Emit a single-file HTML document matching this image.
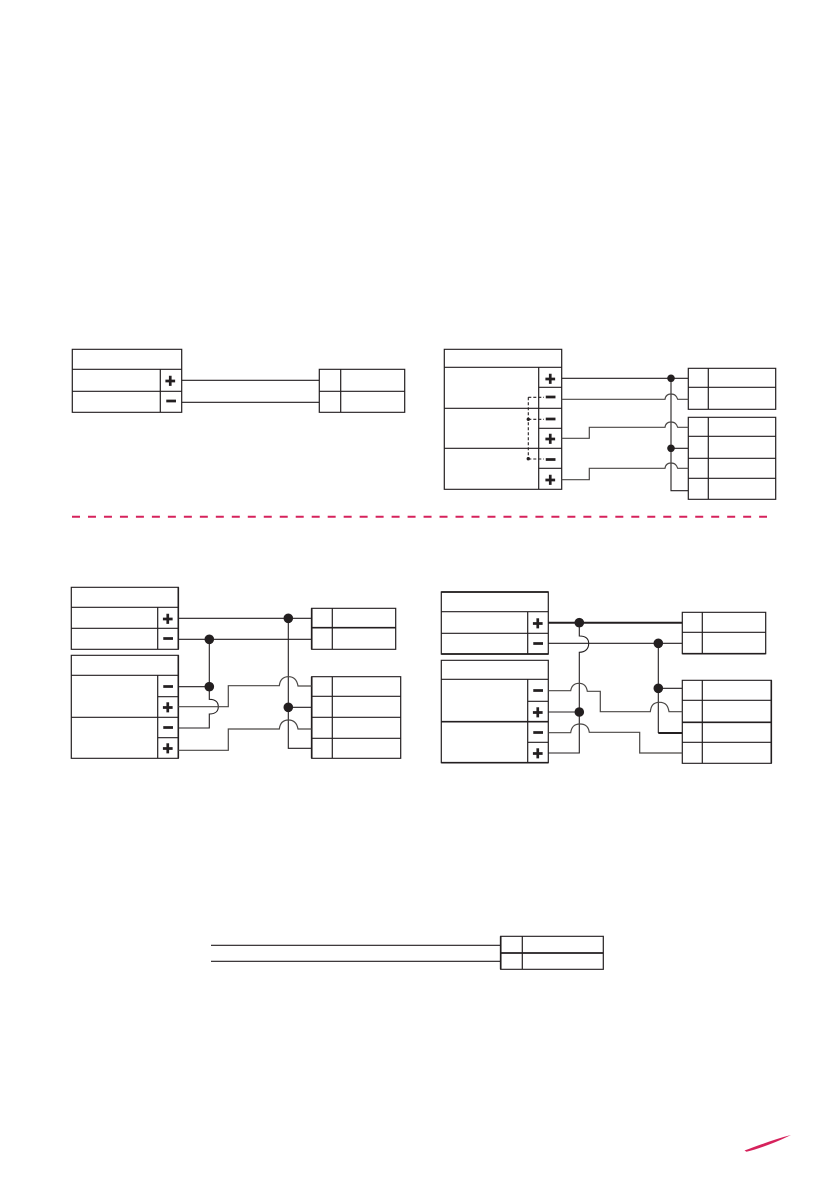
<!DOCTYPE html>
<html lang="en">
<head>
<meta charset="utf-8">
<title>Wiring diagrams</title>
<style>
html,body{margin:0;padding:0;background:#fff;width:839px;height:1191px;overflow:hidden}
svg{display:block}
.b{fill:none;stroke:#231f20;stroke-width:1.2}
.w{fill:none;stroke:#231f20;stroke-width:1.1}
.g{fill:none;stroke:#4a4745;stroke-width:1.2}
.t{fill:none;stroke:#231f20;stroke-width:2}
.d{fill:#231f20;stroke:none}
text{font-family:"Liberation Sans",sans-serif;font-weight:bold;fill:#231f20;stroke:#231f20;stroke-width:.7;text-anchor:middle;font-size:18px}
</style>
</head>
<body>
<svg width="839" height="1191" viewBox="0 0 839 1191" xmlns="http://www.w3.org/2000/svg">

<!-- Diagram 1 -->
<path class="b" d="M72.3 349.3H181.7V412.3H72.3ZM72.3 369.3H181.7M72.3 391.3H181.7M160.3 369.3V412.3"/>
<path class="w" d="M181.7 380.3H319.3M181.7 402.3H319.3"/>
<path class="b" d="M319.3 369.3H404.7V412.3H319.3ZM319.3 391.3H404.7M340.7 369.3V412.3"/>
<text x="170.2" y="387">+</text><text x="171" y="407">−</text>

<!-- Diagram 2 -->
<path class="b" d="M444.3 349.3H561.7V489.3H444.3ZM444.3 367.3H561.7M444.3 408.3H561.7M444.3 448.3H561.7M538.7 367.3V489.3M538.7 387.3H561.7M538.7 428.3H561.7M538.7 468.3H561.7"/>
<path class="b" d="M688.3 368.3H775.7V409.3H688.3ZM688.3 387.3H775.7M708.3 368.3V409.3"/>
<path class="b" d="M688.3 417.3H775.7V499.3H688.3ZM688.3 436.3H775.7M688.3 458.3H775.7M688.3 478.3H775.7M708.3 417.3V499.3"/>
<path class="w" d="M561.7 378.3H688.3M671 378.3V490.7H688.3M671 448.3H688.3"/>
<path class="g" d="M561.7 399.3H665C665.5 396 667 394 671 394S676.500 396 677.700 399.300H688.300"/>
<path class="g" d="M561.700 438.300H589.300V427.300H665C665.500 424 667 422 671 422S676.500 424 677.700 427.300H688.300"/>
<path class="g" d="M561.700 479.700H589.300V468.300H665C665.500 465 667 463 671 463S676.500 465 677.700 468.300H688.300"/>
<circle class="d" cx="671" cy="378.300" r="3.800"/><circle class="d" cx="671" cy="448.300" r="3.800"/>
<path class="w" stroke-dasharray="3 2" d="M528.300 397.300V458.700M528.300 397.300H544M528.300 419.300H544M528.300 459H544"/>
<circle class="d" cx="528.300" cy="419.300" r="1.700"/><circle class="d" cx="528.300" cy="458.700" r="1.700"/>
<text x="550.300" y="385">+</text><text x="550.500" y="403">−</text><text x="550.500" y="425">−</text><text x="550.300" y="445">+</text><text x="550.500" y="465.500">−</text><text x="550.300" y="486">+</text>

<!-- Separator -->
<line x1="72" y1="516.800" x2="767" y2="516.800" stroke="#d6225c" stroke-width="2" stroke-dasharray="7.990 7.990"/>

<!-- Diagram 3 -->
<path class="b" d="M71.300 587.300H178.300V649.300H71.300ZM71.300 607.300H178.300M71.300 628.300H178.300M157.700 607.300V649.300"/>
<path class="b" d="M71.300 655.300H178.300V758.300H71.300ZM71.300 675.300H178.300M71.300 717.300H178.300M157.700 675.300V758.300M157.700 696.700H178.300M157.700 737.700H178.300"/>
<path d="M178.300 587.300V649.300M178.300 655.300V758.300" stroke="#231f20" stroke-width="1.600" fill="none"/>
<path class="b" d="M311.700 608.300H395.700V649.300H311.700ZM332.300 608.300V649.300"/>
<path class="b" d="M311.700 676.700H400.700V758.300H311.700ZM311.700 696.300H400.700M311.700 717.300H400.700M311.700 738.300H400.700M332.300 676.700V758.300"/>
<path d="M311.700 608.300V649.300M311.700 676.700V758.300M311.700 627.700H395.700" stroke="#231f20" stroke-width="1.700" fill="none"/>
<path class="w" d="M178.300 618.300H311.700M178.300 639.300H311.700M288.300 618.300V748.300H311.700M288.300 707.300H311.700"/>
<path class="w" d="M178.300 686.700H209.300M209.300 639.300V699.300C215 699.300 218.300 702 218.300 706.700S215 714 209.300 714V728H178.300"/>
<path class="g" d="M178.300 706.700H228.300V685.700H279.300C280 680 283 676.700 288.500 676.700S297 680 298 686H311.700"/>
<path class="g" d="M178.300 750.300H228.300V729H279.300C280 723.500 283 720 288.500 720S297 723.500 298 729H311.700"/>
<circle class="d" cx="288.300" cy="618.300" r="4.800"/><circle class="d" cx="209.300" cy="639.300" r="4.800"/><circle class="d" cx="209.300" cy="686.700" r="4.800"/><circle class="d" cx="288.300" cy="707.300" r="4.800"/>
<text x="167.700" y="625">+</text><text x="168" y="644.500">−</text><text x="168" y="692.500">−</text><text x="167.700" y="713.500">+</text><text x="168" y="733.500">−</text><text x="167.700" y="754.500">+</text>

<!-- Diagram 4 -->
<path class="b" d="M441.300 592H548.300V654H441.300ZM441.300 611.700H548.300M441.300 633.300H548.300M527.700 611.700V654"/>
<path class="b" d="M441.300 660.300H548.300V762.700H441.300ZM441.300 679.300H548.300M527.700 679.300V762.700M527.700 701.300H548.300M527.700 742.300H548.300"/>
<path d="M441.300 592H548.300M441.300 654H548.300M441.300 721.700H548.300M441.300 762.700H548.300" stroke="#231f20" stroke-width="1.700" fill="none"/>
<path class="b" d="M682.300 612.300H765.700V653.700H682.300ZM682.300 632.300H765.700M702.300 612.300V653.700"/>
<path class="b" d="M682.300 680.300H771.300V763.300H682.300ZM682.300 700.300H771.300M682.300 722.300H771.300M682.300 742.300H771.300M702.300 680.300V763.300"/>
<path d="M771.300 680.300V763.300M682.300 653.700H765.700M682.300 722.300H771.300" stroke="#231f20" stroke-width="1.600" fill="none"/>
<path class="t" d="M548.300 622.700H682.300M658.300 733H682.300"/>
<path class="w" d="M548.300 643.300H682.300M658.300 643.300V733M658.300 688.300H682.300"/>
<path class="w" d="M579.300 622.700V636C585 636 588.700 638 588.700 643.500S585 652.300 579.300 652.300V753H548.300"/>
<path class="w" d="M548.300 712H579.300"/>
<path class="g" d="M548.300 690.700H570.700C571.500 686 574 683.300 579 683.300S586.500 686 587.300 691.300H600.300V711.700H650.300C651 706 653 702.300 659.500 702.300S668 706 669 711.700H682.300"/>
<path class="g" d="M548.300 732.700H570.700C571.500 727 574 724 580 724S588.500 727 589.300 732.300H639.700V753H682.300"/>
<circle class="d" cx="579.300" cy="622.700" r="4.800"/><circle class="d" cx="658.300" cy="643.300" r="4.800"/><circle class="d" cx="658.300" cy="688.300" r="4.800"/><circle class="d" cx="579.300" cy="712" r="4.800"/>
<text x="537.700" y="629.500">+</text><text x="538" y="649.500">−</text><text x="538" y="696.500">−</text><text x="537.700" y="718.500">+</text><text x="538" y="738.500">−</text><text x="537.700" y="759.500">+</text>

<!-- Diagram 5 -->
<path class="w" d="M211 945.300H500.700M211 961.300H500.700"/>
<path class="b" d="M500.700 936.300H603.300V969.300H500.700ZM522.300 936.300V969.300"/>
<path d="M500.700 953H603.300M500.700 936.300V969.300" stroke="#231f20" stroke-width="1.700" fill="none"/>

<!-- Red mark -->
<path d="M744.500 1150.500C757 1146 775 1139 791 1135C778 1141.500 760 1148.500 746.500 1151.800Z" fill="#d6225c"/>
</svg>
</body>
</html>
